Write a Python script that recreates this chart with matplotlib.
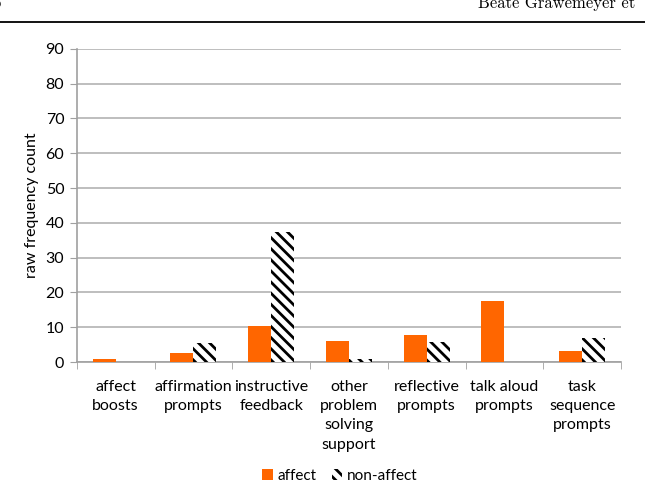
import numpy as np
import matplotlib.pyplot as plt

# Category labels and counts per feedback type
categories = ["affect\nboosts", "affirmation\nprompts", "instructive\nfeedback",
              "other\nproblem\nsolving\nsupport", "reflective\nprompts",
              "talk aloud\nprompts", "task\nsequence\nprompts"]
affect = [0.8, 2.6, 10.5, 6.1, 7.9, 17.5, 3.2]
non_affect = [0, 5.5, 37.3, 1.0, 5.7, 0, 7.0]

plt.rcParams["font.family"] = ["Lato", "DejaVu Sans"]
plt.rcParams["hatch.linewidth"] = 2.0

fig = plt.figure(figsize=(6.45, 4.88), dpi=100)
ax = fig.add_axes([0.119, 0.258, 0.844, 0.642])

x = np.arange(len(categories))
w = 0.296
ax.bar(x - w / 2, affect, w, color="#ff6600", label="affect", zorder=3)
ax.bar(x + w / 2, non_affect, w, color="white", edgecolor="black", linewidth=0,
       hatch="\\\\\\", label="non-affect", zorder=3)

ax.set_xlim(-0.5, len(categories) - 0.5)
ax.set_ylim(0, 90)
ax.set_yticks(range(0, 91, 10))
ax.yaxis.grid(True, color="#b3b3b3", linewidth=1.2)
ax.set_axisbelow(True)

ax.set_xticks(x)
ax.set_xticklabels(categories, fontsize=11.5, linespacing=1.47)
ax.tick_params(axis="x", length=0, pad=13)
ax.set_xticks(np.arange(-0.5, len(categories)), minor=True)
ax.tick_params(axis="x", which="minor", length=5, color="#a0a0a0")
ax.tick_params(axis="y", length=5, color="#a0a0a0", labelsize=11.5, pad=4)

for s in ["top", "right"]:
    ax.spines[s].set_visible(False)
for s in ["left", "bottom"]:
    ax.spines[s].set_color("#a0a0a0")
    ax.spines[s].set_linewidth(1.2)

ax.set_ylabel("raw frequency count", fontsize=11.5, labelpad=5)

fig.legend(loc="lower center", bbox_to_anchor=(0.527, -0.018), ncol=2, frameon=False,
           fontsize=11, handlelength=0.7, handleheight=0.7, handletextpad=0.3,
           columnspacing=1.0)

# page header from the source document (cropped at the page edge)
fig.text(-0.012, 1 - 8 / 488, "6", fontsize=12, family="cmr10", va="baseline")
fig.text(0.985, 1 - 8 / 488, "Beate Grawemeyer et", fontsize=12, family="cmr10",
         va="baseline", ha="right")
fig.add_artist(plt.Line2D([0, 1], [1 - 21.5 / 488] * 2, color="black", linewidth=1.3,
                          transform=fig.transFigure))

fig.savefig("out.png", dpi=100)
